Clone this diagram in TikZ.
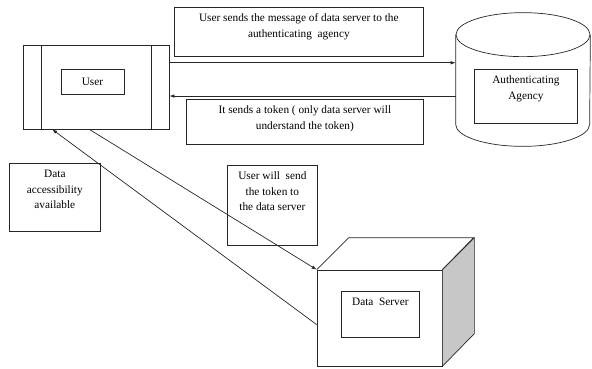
\documentclass[tikz,border=0pt]{standalone}
\usepackage{fontspec}
\setmainfont{Liberation Serif}
\usetikzlibrary{calc,arrows.meta}
\newcommand{\topnote}[3]{\parbox[t][#2][t]{#1}{\centering\vspace*{3.5pt}\strut #3}}
\tikzset{
  box/.style={draw,inner sep=0pt},
  note/.style={draw,inner sep=0pt,anchor=north west},
  arr/.style={-{Latex[length=5pt,width=3.5pt]}}
}
\begin{document}
\begin{tikzpicture}[x=1pt,y=1pt,line width=.7pt,draw=black!85,
    font=\fontsize{11.3}{15.5}\selectfont]
    \useasboundingbox (0,0) rectangle (592,368);
    \node[box,minimum width=146pt,minimum height=84pt] (user) at (96,281) {};
    \foreach\s in {1,-1}
      \draw ($(user.north)+(\s*55,0)$) -- ($(user.south)+(\s*55,0)$);
    \node[box,minimum width=63pt,minimum height=25pt] (userlbl) at (92.5,286.5) {User};
    \node[note] (send) at (174,361) {\topnote{249pt}{49pt}{User sends the message of data server to the\\ authenticating\ \ agency}};
    \node[note] (token) at (186,269) {\topnote{237pt}{45pt}{It sends a token ( only data server will\\ understand the token)}};
    \node[minimum width=134pt,minimum height=133pt] (agency) at (523,288.5) {};
    \draw ($(agency.north west)+(0,-22)$) -- ($(agency.south west)+(0,22)$)
      arc[start angle=180,end angle=360,x radius=67,y radius=22]
      -- ($(agency.north east)+(0,-22)$);
    \draw ($(agency.north)+(0,-22)$) ellipse [x radius=67,y radius=22];
    \node[note] (agencylbl) at (474,299) {\topnote{103pt}{54pt}{Authenticating\\ Agency}};
    \node[note] (access) at (9,205) {\topnote{91pt}{68pt}{Data\\ accessibility\\ available}};
    \node[note] (forward) at (227,203) {\topnote{90pt}{80pt}{User will\ \ send\\ the token to\\ the data server}};
    \node[box,minimum width=125pt,minimum height=96pt] (server) at (379.5,50) {};
    \draw (server.north west) -- ++(32,32) -- ++(125,0) -- (server.north east);
    \draw[fill=black!22] (server.north east) -- ++(32,32) -- ++(0,-96) -- (server.south east) -- cycle;
    \node[note] (serverlbl) at (341,77) {\topnote{78pt}{46pt}{Data\ \ Server}};
    \coordinate (m1) at ($(user.north east)!.214!(user.south east)$);
    \coordinate (m2) at ($(user.north east)!.607!(user.south east)$);
    \draw[arr] (m1) -- (m1 -| agency.west);
    \draw[arr] (m2 -| agency.west) -- (m2);
    \draw[arr] (user.-99.5) -- (server.north west);
    \draw[arr] (server.186) -- (user.-136);
  \end{tikzpicture}
\end{document}
